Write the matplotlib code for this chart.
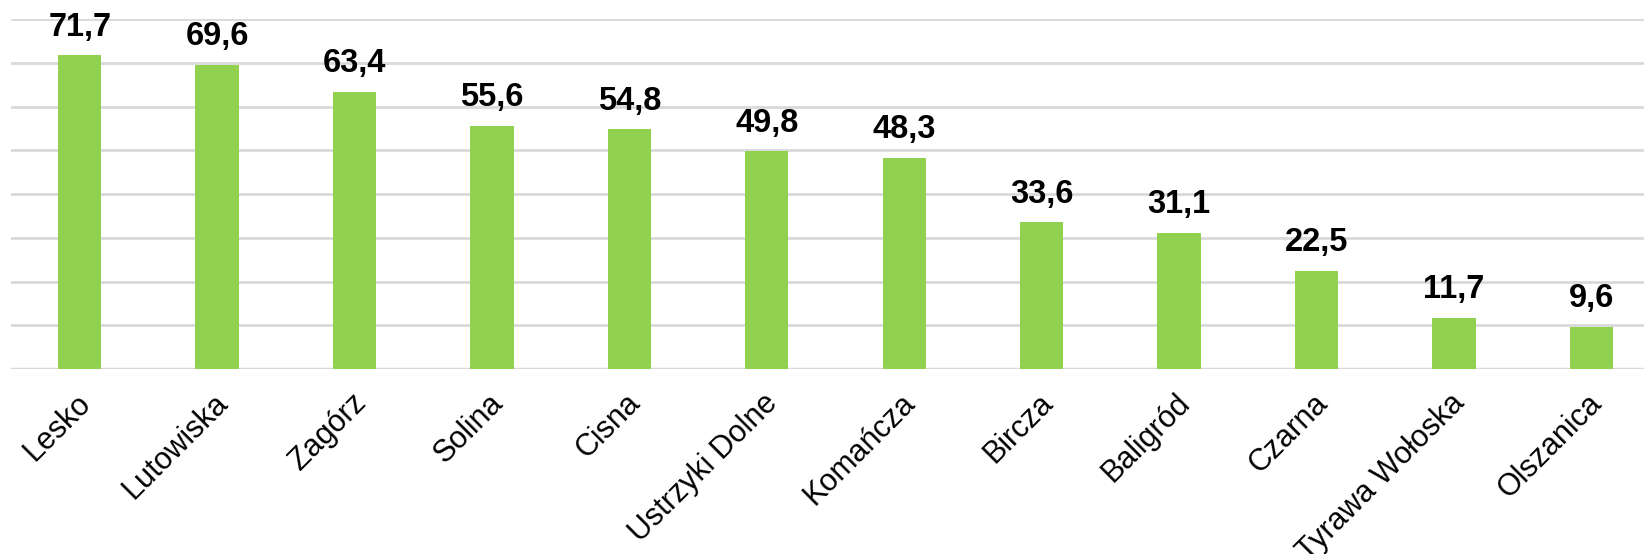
import matplotlib
matplotlib.use("Agg")
from matplotlib import pyplot as plt
from matplotlib import transforms
import numpy as np

gminy = ['Lesko', 'Lutowiska', 'Zagórz', 'Solina', 'Cisna', 'Ustrzyki Dolne',
         'Komańcza', 'Bircza', 'Baligród', 'Czarna', 'Tyrawa Wołoska', 'Olszanica']
wartosci = [71.7, 69.6, 63.4, 55.6, 54.8, 49.8, 48.3, 33.6, 31.1, 22.5, 11.7, 9.6]

plt.rcParams['font.family'] = ['Liberation Sans', 'DejaVu Sans']

fig = plt.figure(figsize=(16.44, 5.54), dpi=100)
# axes runs a bit past the right edge, like the source chart
ax = fig.add_axes([11 / 1644, 1 - 369 / 554, 1649 / 1644, 350 / 554])

x = np.arange(len(gminy))
ax.bar(x, wartosci, width=0.315, color='#92D050', zorder=3)

ax.set_ylim(0, 80)
ax.set_xlim(-0.5, len(gminy) - 0.5)
ax.set_yticks(np.arange(0, 81, 10))
ax.yaxis.grid(True, color='#d9d9d9', linewidth=2)
ax.set_axisbelow(True)
ax.tick_params(axis='y', left=False, labelleft=False)
ax.tick_params(axis='x', length=0, pad=0)
for s in ['top', 'right', 'left', 'bottom']:
    ax.spines[s].set_visible(False)
ax.axhline(0, color='#d9d9d9', linewidth=2.5, zorder=2)

for xi, v in zip(x, wartosci):
    ax.annotate(f'{v:.1f}'.replace('.', ','), (xi, v), xytext=(0, 9),
                textcoords='offset points', ha='center', va='bottom',
                fontsize=23.5, fontweight='bold', color='black')

ax.set_xticks(x)
off = transforms.ScaledTranslation(-4 / 100, -19 / 100, fig.dpi_scale_trans)
labels = ax.set_xticklabels(gminy, rotation=45, ha='right', va='top',
                            rotation_mode='anchor', fontsize=22)
for lab in labels:
    lab.set_transform(lab.get_transform() + off)

fig.savefig('out.png', dpi=100)
